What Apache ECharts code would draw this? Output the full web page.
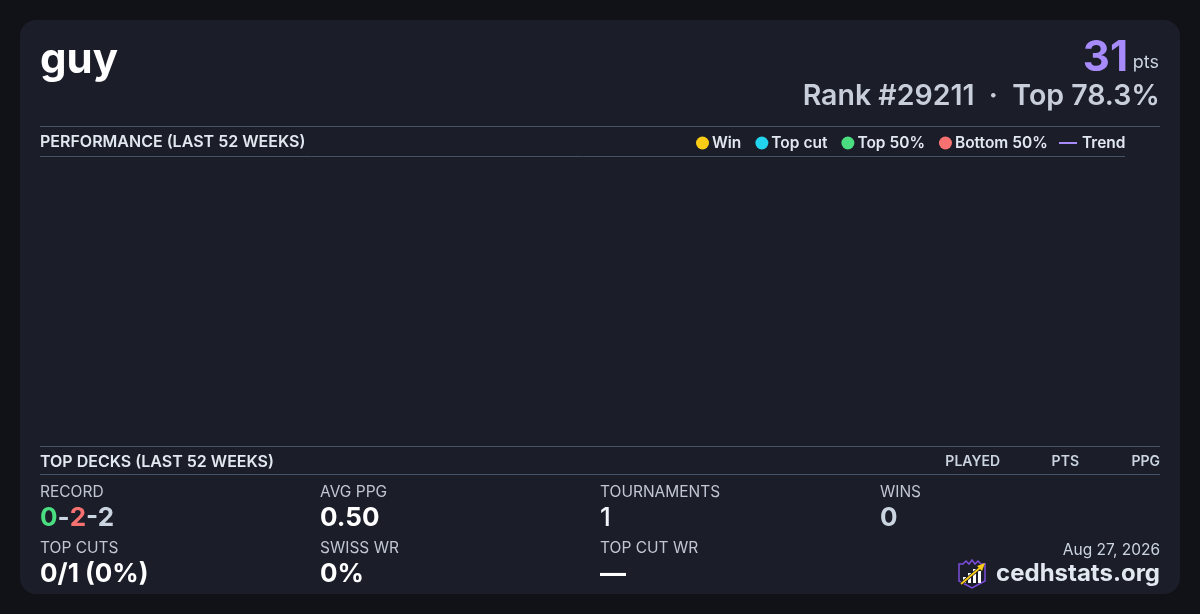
<!DOCTYPE html>
<html>
<head>
<meta charset="utf-8">
<script src="https://cdn.jsdelivr.net/npm/echarts@6/dist/echarts.min.js"></script>
<style>
html,body{margin:0;padding:0;background:#111217;}
#c{width:1200px;height:614px;}
</style>
</head>
<body>
<div id="c"></div>
<script>
// ---- data ----
const playerName = 'guy';
const points = '31';
const rankText = 'Rank #29211  \u00b7  Top 78.3%';
const weeks = [];            // no events in the last 52 weeks
const winData = [];
const topCutData = [];
const top50Data = [];
const bottom50Data = [];
const trendData = [];
const deckHeaders = ['PLAYED', 'PTS', 'PPG'];
const statLabelsRow1 = ['RECORD', 'AVG PPG', 'TOURNAMENTS', 'WINS'];
const statValuesRow1 = ['0-2-2', '0.50', '1', '0'];
const statLabelsRow2 = ['TOP CUTS', 'SWISS WR', 'TOP CUT WR'];
const statValuesRow2 = ['0/1 (0%)', '0%', '\u2014'];
const dateText = 'Aug 27, 2026';
const siteText = 'cedhstats.org';

const F = 'Inter, "Noto Sans", sans-serif';
const LINE = '#465265';
const COLORS = {'Win':'#facc15', 'Top cut':'#22d3ee', 'Top 50%':'#4ade80', 'Bottom 50%':'#f87171', 'Trend':'#a78bfa'};
const chart = echarts.init(document.getElementById('c'));

function txt(x, y, text, size, weight, color, align) {
  return {type:'text', x, y, silent:true, style:{text, fontSize:size, fontWeight:weight, fill:color,
    fontFamily:F, align:align||'left', verticalAlign:'middle'}};
}
function hline(x1, x2, y) {
  return {type:'line', silent:true, shape:{x1, y1:y, x2, y2:y}, style:{stroke:LINE, lineWidth:1}};
}
const colX = [40, 320, 600, 880];
const g = [
  {type:'rect', shape:{x:20, y:20, width:1160, height:574, r:16}, style:{fill:'#1b1d29'}, silent:true, z:-10},
  txt(40, 60, playerName, 42, 700, '#ffffff'),
  txt(1128, 58, points, 42, 700, '#a78bfa', 'right'),
  txt(1159, 63, 'pts', 18, 400, '#cbd5e1', 'right'),
  txt(1160, 96, rankText, 28.5, 600, '#c8cfdb', 'right'),
  hline(40, 1160, 126.5),
  txt(40, 142, 'PERFORMANCE (LAST 52 WEEKS)', 16, 600, '#e2e8f0'),
  hline(40, 1125, 156.5),
  hline(40, 1160, 446.5),
  txt(40, 462, 'TOP DECKS (LAST 52 WEEKS)', 16, 600, '#e2e8f0'),
  txt(1000, 462, deckHeaders[0], 14, 600, '#cbd5e1', 'right'),
  txt(1079, 462, deckHeaders[1], 14, 600, '#cbd5e1', 'right'),
  txt(1160, 462, deckHeaders[2], 14, 600, '#cbd5e1', 'right'),
  hline(40, 1160, 474.5),
  txt(1160, 550, dateText, 15.5, 400, '#cbd5e1', 'right'),
  txt(1160, 574, siteText, 24, 700, '#e2e8f0', 'right')
];
statLabelsRow1.forEach((l, i) => g.push(txt(colX[i], 492, l, 15.5, 400, '#c0c6d2')));
statLabelsRow2.forEach((l, i) => g.push(txt(colX[i], 548, l, 15.5, 400, '#c0c6d2')));
// record with coloured parts
const rp = statValuesRow1[0].split('-');
g.push({type:'text', x:40, y:518, silent:true, style:{
  text:'{w|' + rp[0] + '}{d|-}{l|' + rp[1] + '}{d|-' + rp[2] + '}',
  fontFamily:F, verticalAlign:'middle',
  rich:{w:{fontSize:26, fontWeight:700, fill:'#4ade80', fontFamily:F},
        l:{fontSize:26, fontWeight:700, fill:'#f87171', fontFamily:F},
        d:{fontSize:26, fontWeight:700, fill:'#cbd5e1', fontFamily:F}}}});
g.push(txt(colX[1], 518, statValuesRow1[1], 26, 700, '#ffffff'));
g.push(txt(colX[2], 518, statValuesRow1[2], 26, 500, '#f1f5f9'));
g.push(txt(colX[3], 518, statValuesRow1[3], 26, 700, '#cbd5e1'));
statValuesRow2.forEach((v, i) => g.push(txt(colX[i], 574, v, 26, 700, '#ffffff')));
// logo
g.push({type:'polygon', silent:true, shape:{points:[[959,564],[963,564],[966,561],[969,564],[972,560],[975,564],[978,561],[981,564],[985,564],[985,581],[972,588],[959,581]]},
  style:{fill:'#1b1d29', stroke:'#7c4ddb', lineWidth:1.5}});
g.push({type:'rect', silent:true, shape:{x:963, y:577, width:3, height:6}, style:{fill:'#ffffff'}});
g.push({type:'rect', silent:true, shape:{x:968, y:573, width:3, height:10}, style:{fill:'#ffffff'}});
g.push({type:'rect', silent:true, shape:{x:973, y:569, width:3, height:14}, style:{fill:'#ffffff'}});
g.push({type:'rect', silent:true, shape:{x:978, y:571, width:3, height:12}, style:{fill:'#ffffff'}});
g.push({type:'line', silent:true, shape:{x1:961, y1:584, x2:981, y2:567}, style:{stroke:'#1b1d29', lineWidth:3.5}});
g.push({type:'line', silent:true, shape:{x1:961, y1:584, x2:981, y2:567}, style:{stroke:'#facc15', lineWidth:1.8}});
g.push({type:'polygon', silent:true, shape:{points:[[985,563],[977,566],[982,571]]}, style:{fill:'#facc15'}});

const legendText = {color:'#e2e8f0', fontSize:15.5, fontWeight:600, fontFamily:F};
chart.setOption({
  backgroundColor:'#111217',
  animation:false,
  textStyle:{fontFamily:F},
  grid:{left:40, right:75, top:160, bottom:172},
  xAxis:{type:'category', data:weeks, show:false},
  yAxis:{type:'value', show:false},
  legend:[
    {left:696, top:135, padding:0, itemWidth:13, itemHeight:13, itemGap:14, icon:'circle', selectedMode:false,
     textStyle:Object.assign({padding:[0,0,0,-2]}, legendText),
     data:['Win', 'Top cut', 'Top 50%', 'Bottom 50%'].map(n => ({name:n, itemStyle:{color:COLORS[n], opacity:1}}))},
    {left:1059, top:135, padding:0, itemWidth:18, itemHeight:2, icon:'rect', selectedMode:false,
     textStyle:legendText,
     data:[{name:'Trend', itemStyle:{color:COLORS['Trend'], opacity:1}}]}
  ],
  series:[
    {name:'Win', type:'scatter', data:winData, itemStyle:{color:COLORS['Win'], opacity:1}},
    {name:'Top cut', type:'scatter', data:topCutData, itemStyle:{color:COLORS['Top cut'], opacity:1}},
    {name:'Top 50%', type:'scatter', data:top50Data, itemStyle:{color:COLORS['Top 50%'], opacity:1}},
    {name:'Bottom 50%', type:'scatter', data:bottom50Data, itemStyle:{color:COLORS['Bottom 50%'], opacity:1}},
    {name:'Trend', type:'line', data:trendData, symbol:'none', itemStyle:{color:COLORS['Trend']}, lineStyle:{color:COLORS['Trend'], width:2}}
  ],
  graphic:g
});
</script>
</body>
</html>
